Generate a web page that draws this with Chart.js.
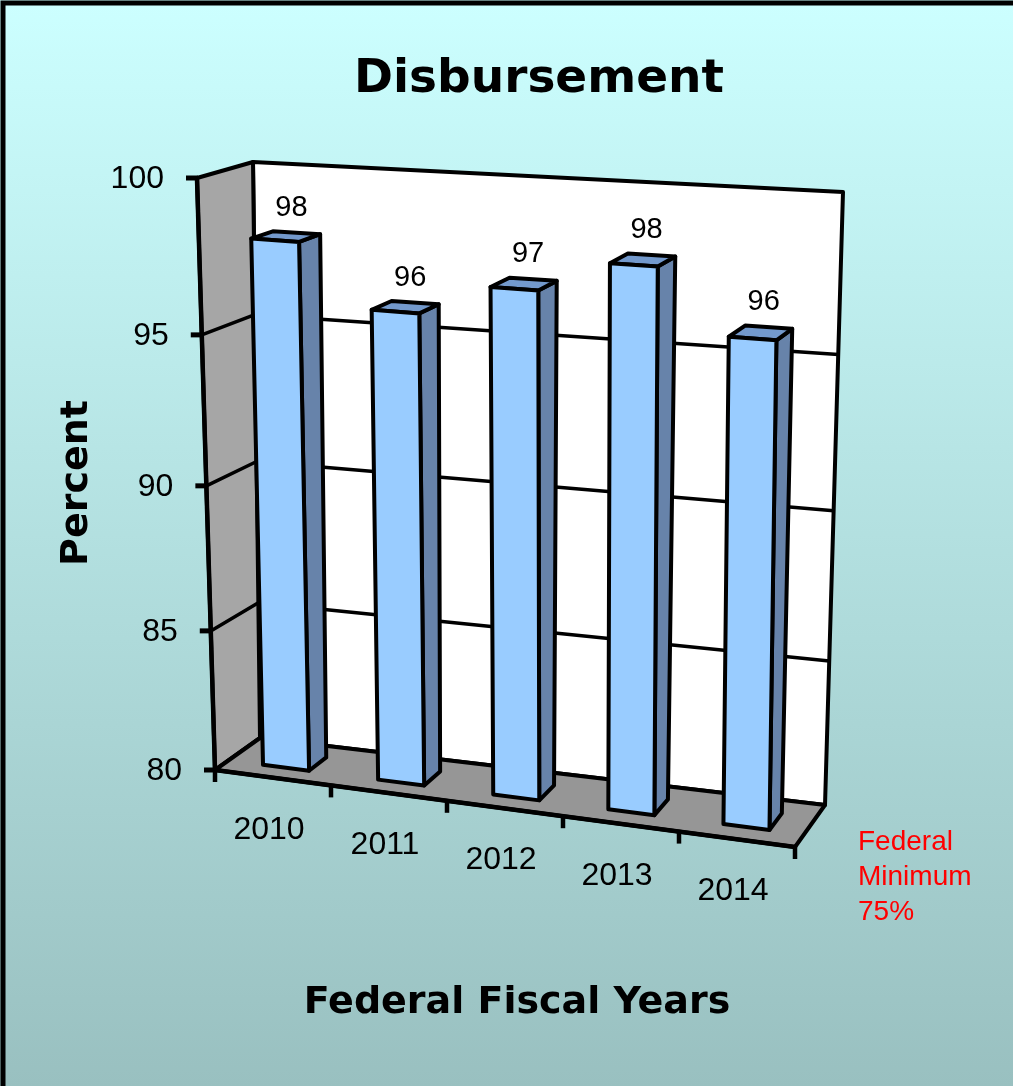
<!DOCTYPE html>
<html>
<head>
<meta charset="utf-8">
<script src="https://cdn.jsdelivr.net/npm/chart.js@4.4.1/dist/chart.umd.min.js"></script>
<style>
  html, body { margin: 0; padding: 0; background: #fff; }
  canvas { display: block; }
</style>
</head>
<body>
<canvas id="myChart" width="1013" height="1086"></canvas>
<script>
// data
const years = ["2010", "2011", "2012", "2013", "2014"];
const percents = [98, 96, 97, 98, 96];
const yTicks = [80, 85, 90, 95, 100];
const noteLines = ["Federal", "Minimum", "75%"];

const titleText = "Disbursement";
const xTitle = "Federal Fiscal Years";
const yTitle = "Percent";

// 3d look: front plane is the chart area, the rest are offsets from it
function frame(a) {
  const L = a.left, R = a.right, T = a.top, B = a.bottom;
  const f = { lb: [L, B], rb: [R, B + 77], lt: [L - 18, T], rt: [R + 7, T + 40] };
  const b = {
    lb: [f.lb[0] + 45, f.lb[1] - 32],
    rb: [f.rb[0] + 30, f.rb[1] - 42],
    lt: [f.lt[0] + 56, f.lt[1] - 16],
    rt: [f.rt[0] + 41, f.rt[1] - 26]
  };
  return { f, b };
}

function lerp(p, q, t) {
  return [p[0] + (q[0] - p[0]) * t, p[1] + (q[1] - p[1]) * t];
}

function project(fr, u, v, z) {
  const w = v - 0.08 * v * (1 - v); // a little perspective squeeze at the top
  const f = lerp(lerp(fr.f.lb, fr.f.rb, u), lerp(fr.f.lt, fr.f.rt, u), w);
  const b = lerp(lerp(fr.b.lb, fr.b.rb, u), lerp(fr.b.lt, fr.b.rt, u), w);
  return lerp(f, b, z);
}

function poly(ctx, pts, fill, lw) {
  ctx.beginPath();
  ctx.moveTo(pts[0][0], pts[0][1]);
  for (let i = 1; i < pts.length; i++) ctx.lineTo(pts[i][0], pts[i][1]);
  ctx.closePath();
  if (fill) { ctx.fillStyle = fill; ctx.fill(); }
  if (lw) { ctx.lineWidth = lw; ctx.strokeStyle = "#000"; ctx.stroke(); }
}

function line(ctx, p, q, lw) {
  ctx.beginPath();
  ctx.moveTo(p[0], p[1]);
  ctx.lineTo(q[0], q[1]);
  ctx.lineWidth = lw;
  ctx.strokeStyle = "#000";
  ctx.stroke();
}

const box3d = {
  id: "box3d",
  beforeDraw(chart) {
    const ctx = chart.ctx;
    const g = ctx.createLinearGradient(0, 0, 0, chart.height);
    g.addColorStop(0, "#ccffff");
    g.addColorStop(1, "#99c0c0");
    ctx.save();
    ctx.fillStyle = g;
    ctx.fillRect(0, 0, chart.width, chart.height);
    // frame on the left and top
    ctx.beginPath();
    ctx.moveTo(3, chart.height);
    ctx.lineTo(3, 3);
    ctx.lineTo(chart.width, 3);
    ctx.lineWidth = 5;
    ctx.strokeStyle = "#000";
    ctx.stroke();
    ctx.restore();
  },
  afterDraw(chart) {
    const ctx = chart.ctx;
    const a = chart.chartArea;
    const fr = frame(a);
    const yScale = chart.scales.y;
    const xScale = chart.scales.x;
    const P = (u, v, z) => project(fr, u, v, z);
    const vOf = (px) => (a.bottom - px) / (a.bottom - a.top);
    const uOf = (px) => (px - a.left) / (a.right - a.left);

    ctx.save();
    ctx.lineJoin = "round";
    ctx.lineCap = "butt";

    // back wall, left wall, floor
    poly(ctx, [P(0, 0, 1), P(1, 0, 1), P(1, 1, 1), P(0, 1, 1)], "#ffffff", 4);
    poly(ctx, [P(0, 0, 0), P(0, 0, 1), P(0, 1, 1), P(0, 1, 0)], "#a6a6a6", 4);
    poly(ctx, [P(0, 0, 0), P(1, 0, 0), P(1, 0, 1), P(0, 0, 1)], "#969696", 4);

    // grid lines on walls + ticks on the front axis
    yTicks.forEach((t) => {
      const v = vOf(yScale.getPixelForValue(t));
      if (t > yTicks[0] && t < yTicks[yTicks.length - 1]) {
        ctx.beginPath();
        const p0 = P(0, v, 0), p1 = P(0, v, 1), p2 = P(1, v, 1);
        ctx.moveTo(p0[0], p0[1]);
        ctx.lineTo(p1[0], p1[1]);
        ctx.lineTo(p2[0], p2[1]);
        ctx.lineWidth = 3.5;
        ctx.strokeStyle = "#000";
        ctx.stroke();
      }
      const p = P(0, v, 0);
      line(ctx, [p[0] - 11, p[1]], [p[0] + 1, p[1]], 5);
    });
    line(ctx, P(0, 0, 0), P(0, 1, 0), 4.5);
    line(ctx, P(0, 0, 0), P(1, 0, 0), 4.5);

    // category ticks under the floor
    for (let k = 0; k <= years.length; k++) {
      const p = P(k / years.length, 0, 0);
      line(ctx, [p[0], p[1] - 1], [p[0], p[1] + 12], 4.5);
    }

    // bars, drawn from the bar elements chart.js laid out
    const meta = chart.getDatasetMeta(0);
    const z0 = 0.3, z1 = 0.7;
    const v0 = vOf(yScale.getPixelForValue(yTicks[0]));
    meta.data.forEach((el) => {
      const u1 = uOf(el.x - el.width / 2);
      const u2 = uOf(el.x + el.width / 2);
      const v = vOf(el.y);
      poly(ctx, [P(u2, v0, z0), P(u2, v0, z1), P(u2, v, z1), P(u2, v, z0)], "#6783aa", 4);
      poly(ctx, [P(u1, v, z0), P(u2, v, z0), P(u2, v, z1), P(u1, v, z1)], "#7399cc", 4);
      poly(ctx, [P(u1, v0, z0), P(u2, v0, z0), P(u2, v, z0), P(u1, v, z0)], "#99ccff", 4);
    });

    // value labels
    ctx.fillStyle = "#000";
    ctx.font = "29px 'Liberation Sans', Arial, sans-serif";
    ctx.textAlign = "center";
    ctx.textBaseline = "middle";
    meta.data.forEach((el, i) => {
      const p = P(uOf(el.x), vOf(el.y), 0.7);
      ctx.fillText(String(Math.round(percents[i])), p[0] - 5, p[1] - 25);
    });

    // y tick labels
    ctx.font = "32px 'Liberation Sans', Arial, sans-serif";
    ctx.textAlign = "right";
    yTicks.forEach((t) => {
      const p = P(0, vOf(yScale.getPixelForValue(t)), 0);
      ctx.fillText(String(t), p[0] - 33, p[1] + 1);
    });

    // x tick labels
    ctx.textAlign = "center";
    years.forEach((y, i) => {
      const p = P(uOf(xScale.getPixelForValue(i)), 0, 0);
      ctx.fillText(y, p[0] - 4, p[1] + 52);
    });

    // red note
    ctx.fillStyle = "#ff0000";
    ctx.font = "28px 'Liberation Sans', Arial, sans-serif";
    ctx.textAlign = "left";
    noteLines.forEach((s, i) => {
      ctx.fillText(s, 858, 842 + i * 35);
    });

    // titles
    ctx.fillStyle = "#000";
    ctx.textAlign = "center";
    ctx.font = "bold 47px 'DejaVu Sans', sans-serif";
    ctx.fillText(titleText, 539, 80);
    ctx.font = "bold 38px 'DejaVu Sans', sans-serif";
    ctx.fillText(xTitle, 517, 1003);
    ctx.save();
    ctx.translate(77, 483);
    ctx.rotate(-Math.PI / 2);
    ctx.fillText(yTitle, 0, 0);
    ctx.restore();

    ctx.restore();
  }
};

const data = {
  labels: years,
  datasets: [
    {
      label: "Disbursement",
      data: percents,
      backgroundColor: "rgba(0,0,0,0)",
      borderWidth: 0,
      barPercentage: 0.4,
      categoryPercentage: 1
    }
  ]
};

const config = {
  type: "bar",
  data: data,
  options: {
    responsive: false,
    animation: false,
    devicePixelRatio: 1,
    events: [],
    layout: { padding: { left: 215, right: 218, top: 178, bottom: 316 } },
    plugins: { legend: { display: false }, title: { display: false }, tooltip: { enabled: false } },
    scales: {
      x: { display: false },
      y: { display: false, min: 80, max: 100, ticks: { stepSize: 5 } }
    }
  },
  plugins: [box3d]
};

const myChart = new Chart(document.getElementById("myChart"), config);
</script>
</body>
</html>
